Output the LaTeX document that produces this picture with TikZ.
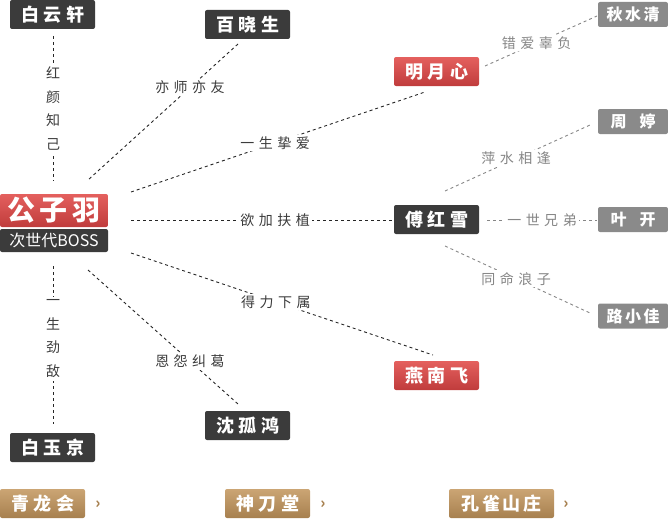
\documentclass[tikz,border=0pt]{standalone}
\usepackage{fontspec}
\setmainfont{Noto Sans CJK SC}
\definecolor{dk}{HTML}{3B3B3B}
\definecolor{rdt}{HTML}{E4605E}
\definecolor{rdb}{HTML}{C03C3C}
\definecolor{gy}{HTML}{8A8A8A}
\definecolor{tnt}{HTML}{CBA574}
\definecolor{tnb}{HTML}{A7804F}
\definecolor{lbl}{HTML}{3C3C3C}
\definecolor{lbg}{HTML}{868686}
\newcommand\bgap{\hspace{4.5pt}}
\newcommand\lgap{\hspace{4.5pt}}
\begin{document}
\begin{tikzpicture}[x=1pt,y=-1pt,
 box/.style={rounded corners=2pt, minimum width=85pt, minimum height=29pt, text=white, inner sep=0pt, font=\fontsize{18}{18}\selectfont\bfseries},
 darkbox/.style={box, fill=dk},
 redbox/.style={box, top color=rdt, bottom color=rdb},
 graybox/.style={box, fill=gy, minimum width=70pt, minimum height=25pt, font=\fontsize{16}{16}\selectfont\bfseries},
 tanbox/.style={box, top color=tnt, bottom color=tnb},
 conn/.style={dash pattern=on 3pt off 3pt, line width=0.9pt, draw=black!85},
 connl/.style={conn, draw=lbg},
 lab/.style={fill=white, text=lbl, inner sep=2pt, font=\fontsize{14}{14}\selectfont},
 labl/.style={lab, text=lbg},
 vlab/.style={lab, align=center, inner sep=3pt, font=\fontsize{14}{23.5}\selectfont},
 more/.style={text=tnb, inner sep=0pt, font=\fontsize{15}{15}\selectfont\bfseries}]
\useasboundingbox (0,0) rectangle (668,519);

% nodes
\node[darkbox] (byx) at (52.5,14.5) {白\bgap 云\bgap 轩};
\node[darkbox] (bxs) at (247.5,24.5) {百\bgap 晓\bgap 生};
\node[redbox, minimum width=108pt, minimum height=33pt, font=\fontsize{28}{28}\selectfont\bfseries] (gzy) at (54,210.5) {公\hspace{5pt}子\hspace{5pt}羽};
\node[darkbox, minimum width=108pt, minimum height=23pt, font=\fontsize{16}{16}\selectfont] (boss) at (54,240.5) {次世代BOSS};
\node[redbox] (myx) at (436.5,71.5) {明\bgap 月\bgap 心};
\node[graybox] (qsq) at (633,14.5) {秋\hspace{2.5pt}水\hspace{2.5pt}清};
\node[graybox] (zt) at (633,121.5) {周\hspace{13pt}婷};
\node[darkbox] (fhx) at (436.5,219.5) {傅\bgap 红\bgap 雪};
\node[graybox] (yk) at (633,219.5) {叶\hspace{13pt}开};
\node[graybox] (lxj) at (633,316) {路\hspace{2.5pt}小\hspace{2.5pt}佳};
\node[redbox] (ynf) at (436.5,375.5) {燕\bgap 南\bgap 飞};
\node[darkbox] (sgh) at (247.5,425.5) {沈\bgap 孤\bgap 鸿};
\node[darkbox] (byj) at (52.5,447.5) {白\bgap 玉\bgap 京};
\node[tanbox] (qlh) at (42.5,503.5) {青\bgap 龙\bgap 会};
\node[tanbox] (sdt) at (267.5,503.5) {神\bgap 刀\bgap 堂};
\node[tanbox, minimum width=105pt] (kqsz) at (501.5,503.5) {孔\hspace{2.5pt}雀\hspace{2.5pt}山\hspace{2.5pt}庄};
\node[more] (m1) at (98,505) {›};
\node[more] (m2) at (323,505) {›};
\node[more] (m3) at (566,505) {›};

% connector end points
\coordinate (a1) at (53,36);   \coordinate (a2) at (53,181);
\coordinate (b1) at (238,44);  \coordinate (b2) at (88,180);
\coordinate (c1) at (131,192); \coordinate (c2) at (425,92);
\coordinate (d1) at (131,220); \coordinate (d2) at (393,220);
\coordinate (e1) at (131,253); \coordinate (e2) at (433,355);
\coordinate (f1) at (88,270);  \coordinate (f2) at (238,404);
\coordinate (g1) at (53,266);  \coordinate (g2) at (53,424);
\coordinate (h1) at (485,66);  \coordinate (h2) at (597,16);
\coordinate (i1) at (445,191); \coordinate (i2) at (590,125);
\coordinate (j1) at (487,220); \coordinate (j2) at (597,220);
\coordinate (k1) at (445,246); \coordinate (k2) at (590,313);

% connectors
\draw[conn] (a1) -- node[vlab]{红\\颜\\知\\己} (a2);
\draw[conn] (b1) -- node[lab,pos=0.32]{亦\lgap 师\lgap 亦\lgap 友} (b2);
\draw[conn] (c1) -- node[lab,pos=0.49]{一\lgap 生\lgap 挚\lgap 爱} (c2);
\draw[conn] (d1) -- node[lab,pos=0.55]{欲\lgap 加\lgap 扶\lgap 植} (d2);
\draw[conn] (e1) -- node[lab,pos=0.48]{得\lgap 力\lgap 下\lgap 属} (e2);
\draw[conn] (f1) -- node[lab,pos=0.68]{恩\lgap 怨\lgap 纠\lgap 葛} (f2);
\draw[conn] (g1) -- node[vlab,pos=0.46]{一\\生\\劲\\敌} (g2);
\draw[connl] (h1) -- node[labl,pos=0.46]{错\lgap 爱\lgap 辜\lgap 负} (h2);
\draw[connl] (i1) -- node[labl,pos=0.49]{萍\lgap 水\lgap 相\lgap 逢} (i2);
\draw[connl] (j1) -- node[labl,pos=0.5]{一\lgap 世\lgap 兄\lgap 弟} (j2);
\draw[connl] (k1) -- node[labl,pos=0.49]{同\lgap 命\lgap 浪\lgap 子} (k2);
\end{tikzpicture}
\end{document}
